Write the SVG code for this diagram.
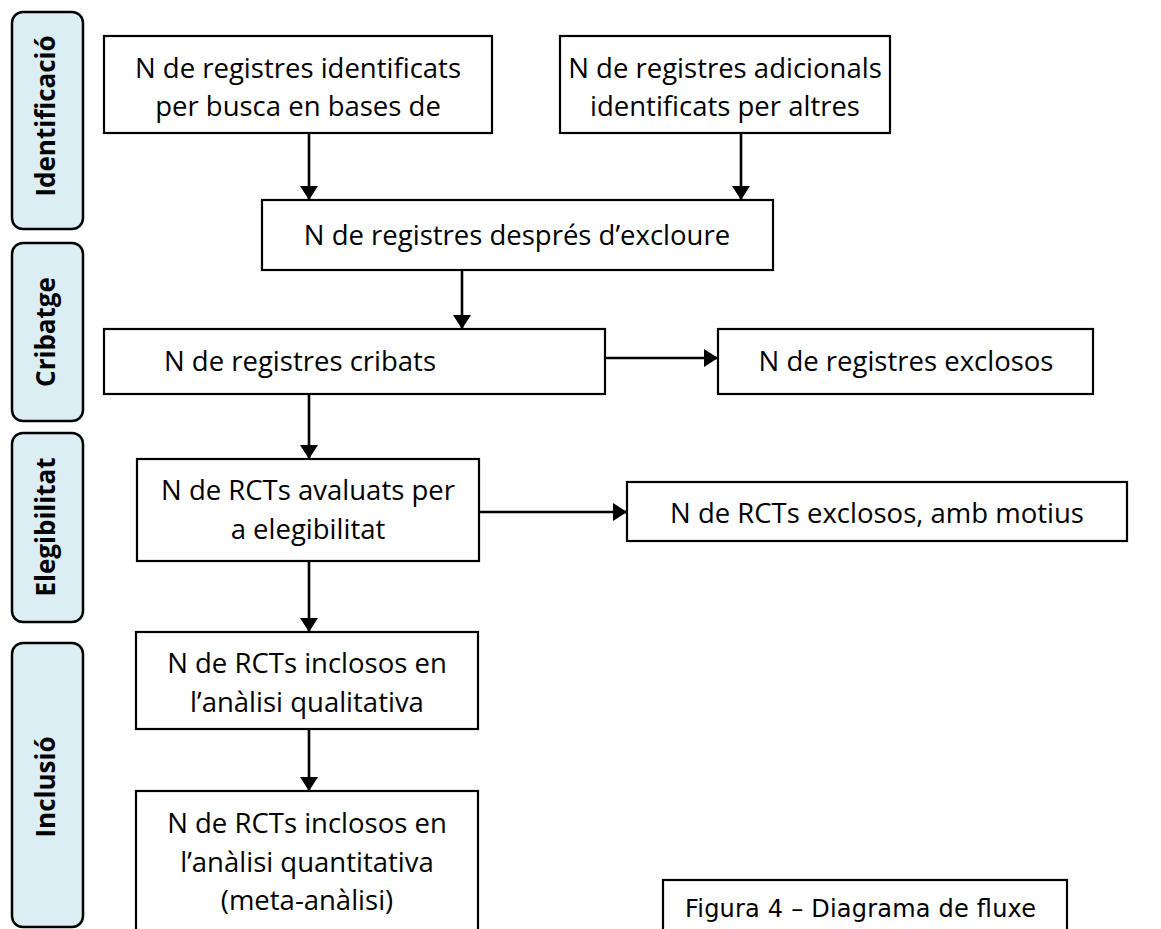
<svg xmlns="http://www.w3.org/2000/svg" width="1161" height="929" viewBox="0 0 1161 929">
<style>
.lane{fill:#DBEEF4;stroke:#000;stroke-width:2.5}
.lt{font-family:"Open Sans","Noto Sans",sans-serif;font-weight:bold;font-size:26px;fill:#000;text-anchor:middle}
.box{fill:#fff;stroke:#000;stroke-width:2.2}
.t{font-family:"Open Sans","Noto Sans",sans-serif;font-size:27.5px;fill:#000;text-anchor:middle}
.cap{font-family:"DejaVu Sans","Verdana",sans-serif;font-size:24px;fill:#000}
.c{stroke:#000;stroke-width:2.6;fill:none;marker-end:url(#ah)}
</style>
<defs>
<marker id="ah" markerUnits="userSpaceOnUse" markerWidth="14" markerHeight="18" viewBox="0 0 14 18" refX="14" refY="9" orient="auto">
<path d="M0,0 L14,9 L0,18 Z" fill="#000"/>
</marker>
</defs>
<rect width="1161" height="929" fill="#fff"/>
<g id="lane-identificacio"><rect class="lane" x="12" y="12" width="71" height="217" rx="11"/><text class="lt" transform="translate(55,116) rotate(-90)">Identificació</text></g>
<g id="lane-cribatge"><rect class="lane" x="12" y="243" width="71" height="178" rx="11"/><text class="lt" transform="translate(55,332) rotate(-90)">Cribatge</text></g>
<g id="lane-elegibilitat"><rect class="lane" x="12" y="433" width="71" height="189" rx="11"/><text class="lt" transform="translate(55,527) rotate(-90)">Elegibilitat</text></g>
<g id="lane-inclusio"><rect class="lane" x="12" y="643" width="71" height="284" rx="11"/><text class="lt" transform="translate(55,787) rotate(-90)">Inclusió</text></g>

<g id="boxA"><rect class="box" x="104" y="36" width="388" height="97"/><text class="t" x="298" y="78">N de registres identificats</text><text class="t" x="298" y="116">per busca en bases de</text></g>
<g id="boxB"><rect class="box" x="560" y="36" width="330" height="97"/><text class="t" x="725" y="78">N de registres adicionals</text><text class="t" x="725" y="116">identificats per altres</text></g>
<g id="boxC"><rect class="box" x="262" y="200" width="511" height="70"/><text class="t" x="517" y="245">N de registres després d’excloure</text></g>
<g id="boxD"><rect class="box" x="104" y="329" width="501" height="65"/><text class="t" x="300" y="371">N de registres cribats</text></g>
<g id="boxE"><rect class="box" x="718" y="329" width="375" height="65"/><text class="t" x="906" y="371">N de registres exclosos</text></g>
<g id="boxF"><rect class="box" x="137" y="459" width="342" height="102"/><text class="t" x="308" y="500">N de RCTs avaluats per</text><text class="t" x="308" y="539">a elegibilitat</text></g>
<g id="boxG"><rect class="box" x="627" y="482" width="500" height="59"/><text class="t" x="877" y="523">N de RCTs exclosos, amb motius</text></g>
<g id="boxH"><rect class="box" x="136" y="632" width="342" height="97"/><text class="t" x="307" y="673">N de RCTs inclosos en</text><text class="t" x="307" y="712">l’anàlisi qualitativa</text></g>
<g id="boxI"><rect class="box" x="136" y="791" width="342" height="150"/><text class="t" x="307" y="833">N de RCTs inclosos en</text><text class="t" x="307" y="872">l’anàlisi quantitativa</text><text class="t" x="307" y="910">(meta-anàlisi)</text></g>
<g id="caption"><rect class="box" x="663" y="880" width="404" height="60"/><text class="cap" x="685" y="917" textLength="351">Figura 4 – Diagrama de fluxe</text></g>

<g id="connectors">
<line class="c" x1="309" y1="133" x2="309" y2="200"/>
<line class="c" x1="741" y1="133" x2="741" y2="200"/>
<line class="c" x1="462" y1="270" x2="462" y2="329"/>
<line class="c" x1="605" y1="358" x2="718" y2="358"/>
<line class="c" x1="309" y1="394" x2="309" y2="459"/>
<line class="c" x1="479" y1="512" x2="627" y2="512"/>
<line class="c" x1="309" y1="561" x2="309" y2="632"/>
<line class="c" x1="309" y1="729" x2="309" y2="791"/>
</g>
</svg>
